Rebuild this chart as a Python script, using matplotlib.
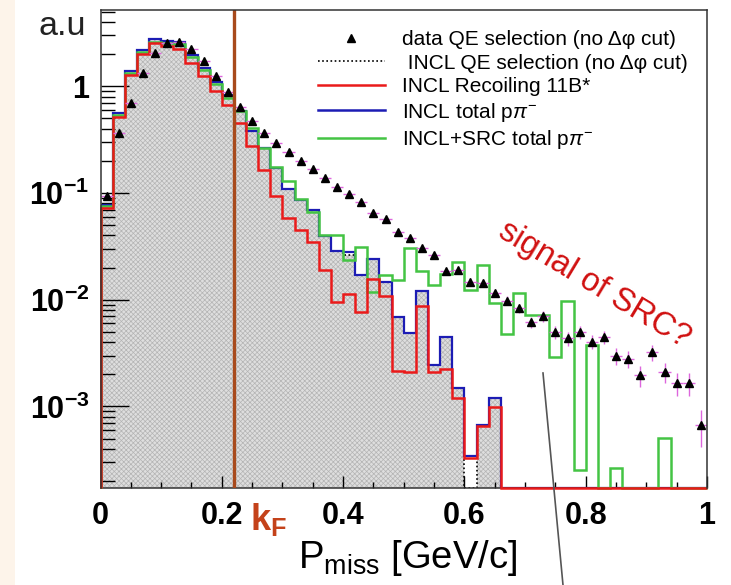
import numpy as np
import matplotlib
matplotlib.use('Agg')
import matplotlib.pyplot as plt
from matplotlib.lines import Line2D
from matplotlib.patches import Rectangle
from matplotlib.ticker import FixedLocator, LogLocator, NullFormatter

plt.rcParams['font.family'] = ['Liberation Sans', 'DejaVu Sans']
plt.rcParams['mathtext.fontset'] = 'custom'
plt.rcParams['mathtext.rm'] = 'Liberation Sans'
plt.rcParams['mathtext.it'] = 'Liberation Sans:italic'
plt.rcParams['mathtext.bf'] = 'Liberation Sans:bold'
plt.rcParams['hatch.linewidth'] = 0.5

# P_miss binning, 50 bins of 20 MeV/c
edges = np.linspace(0.0, 1.0, 51)
centers = 0.5 * (edges[:-1] + edges[1:])
kF = 0.22

# data QE selection (no dphi cut)
data_y = [0.094, 0.367, 0.702, 1.34, 2.07, 2.56, 2.58, 2.24, 1.74, 1.25,
          0.879, 0.636, 0.473, 0.367, 0.296, 0.244, 0.201, 0.168, 0.139, 0.113,
          0.0979, 0.0818, 0.0646, 0.0567, 0.0434, 0.0376, 0.0307, 0.0262, 0.0187, 0.0190,
          0.0148, 0.0144, 0.0116, 0.0098, 0.0083, 0.0062, 0.0070, 0.00495, 0.00435, 0.00495,
          0.00404, 0.0045, 0.00299, 0.00278, 0.00195, 0.00321, 0.00211, 0.00165, 0.00165, 0.00067]
data_err = [0.0029, 0.0058, 0.0080, 0.0111, 0.0138, 0.0154, 0.0154, 0.0144, 0.0127, 0.0107,
            0.0090, 0.0077, 0.0066, 0.0058, 0.0052, 0.0047, 0.0043, 0.0039, 0.0036, 0.0032,
            0.0030, 0.0027, 0.0024, 0.0023, 0.0020, 0.0019, 0.0017, 0.0016, 0.0013, 0.0013,
            0.00117, 0.00115, 0.00104, 0.00095, 0.00087, 0.00076, 0.0008, 0.00068, 0.00063, 0.00068,
            0.00061, 0.00064, 0.00053, 0.0005, 0.00042, 0.00054, 0.00044, 0.00039, 0.00039, 0.00025]

# INCL QE selection (no dphi cut)
incl_qe = [0.0767, 0.558, 1.391, 2.189, 2.776, 2.64, 2.585, 1.965, 1.475, 1.097,
           0.829, 0.587, 0.381, 0.266, 0.1704, 0.1097, 0.086, 0.0693, 0.0395, 0.0288,
           0.0262, 0.0170, 0.0239, 0.01475, 0.00693, 0.00491, 0.01207, 0.00244, 0.0045, 0.0015,
           0, 0.00067, 0.00121, 0, 0, 0, 0, 0, 0, 0,
           0, 0, 0, 0, 0, 0, 0, 0, 0, 0]

# INCL recoiling 11B*
incl_11b = [0.0723, 0.512, 1.276, 2.007, 2.53, 2.386, 2.222, 1.664, 1.249, 0.904,
            0.668, 0.45, 0.276, 0.1654, 0.0944, 0.0579, 0.045, 0.035, 0.0188, 0.00958,
            0.0113, 0.00762, 0.0155, 0.0108, 0.00215, 0.0021, 0.00873, 0.0021, 0.00224, 0.00119,
            0.000332, 0.000655, 0.000994, 0, 0, 0, 0, 0, 0, 0,
            0, 0, 0, 0, 0, 0, 0, 0, 0, 0]

# INCL total p pi-
incl_tot = [0.0767, 0.558, 1.391, 2.189, 2.776, 2.64, 2.585, 1.965, 1.475, 1.097,
            0.829, 0.587, 0.381, 0.266, 0.1704, 0.1097, 0.086, 0.0693, 0.0395, 0.0288,
            0.0278, 0.0170, 0.0239, 0.01475, 0.00693, 0.00491, 0.01207, 0.00244, 0.0045, 0.0015,
            0.00034, 0.00067, 0.00121, 0, 0, 0, 0, 0, 0, 0,
            0, 0, 0, 0, 0, 0, 0, 0, 0, 0]

# INCL+SRC total p pi-
incl_src = [0.075, 0.542, 1.347, 2.11, 2.618, 2.563, 2.491, 1.87, 1.421, 1.051,
            0.769, 0.587, 0.407, 0.266, 0.1764, 0.1304, 0.0888, 0.0664, 0.0404, 0.0404,
            0.0236, 0.0314, 0.0118, 0.0170, 0.0153, 0.0303, 0.0187, 0.01373, 0.0173, 0.0224,
            0.01233, 0.02114, 0.00925, 0.00477, 0.01148, 0.00719, 0.00719, 0.00292, 0.00979, 0.000254,
            0.00376, 0, 0.000263, 0, 0, 0, 0.000509, 0, 0, 0]

xticks = [0, 0.2, 0.4, 0.6, 0.8, 1]
xticklabels = ['0', '0.2', '0.4', '0.6', '0.8', '1']
yticks = [1e-3, 1e-2, 1e-1, 1]
yticklabels = [r'$\mathbf{10^{-3}}$', r'$\mathbf{10^{-2}}$', r'$\mathbf{10^{-1}}$', '1']

ymin, ymax = 1.72e-4, 5.19


def clip(v):
    # empty bins are drawn on the lower frame edge, like ROOT does
    v = np.asarray(v, dtype=float)
    return np.where(v > 0, v, ymin)


W, H = 731, 585
fig = plt.figure(figsize=(W / 100, H / 100), dpi=100)
fig.patches.append(Rectangle((0, 0), 15 / W, 1, transform=fig.transFigure,
                             facecolor='#fdf4ea', edgecolor='none', zorder=-5))

ax = fig.add_axes([100.5 / W, 1 - 488 / H, 606.5 / W, 478 / H])
ax.set_yscale('log')

ax.stairs(clip(incl_qe), edges, baseline=ymin, fill=True, facecolor='#dedede',
          edgecolor='#b4b4b4', hatch='xxxxxxx', linewidth=0, zorder=1)
ax.stairs(clip(incl_qe), edges, baseline=ymin, color='black', linestyle=(0, (1, 1.5)),
          linewidth=1.2, zorder=2)
ax.stairs(clip(incl_tot), edges, baseline=ymin, color='#1c1cb4', linewidth=1.6, zorder=3)
ax.stairs(clip(incl_src), edges, baseline=ymin, color='#44c444', linewidth=1.8, zorder=4,
          clip_on=False)
ax.stairs(clip(incl_11b), edges, baseline=ymin, color='#ea1a1a', linewidth=1.8, zorder=5,
          clip_on=False)

ax.errorbar(centers, data_y, yerr=data_err, xerr=0.01, fmt='none', ecolor='#dd66dd',
            elinewidth=1, capsize=0, zorder=6)
ax.plot(centers, data_y, '^', color='black', markersize=6, linestyle='none', zorder=7)

ax.axvline(kF, color='#a84a1c', linewidth=2.4, zorder=8)

ax.set_xlim(0, 1)
ax.set_ylim(ymin, ymax)
ax.xaxis.set_major_locator(FixedLocator(xticks))
ax.xaxis.set_minor_locator(FixedLocator(np.arange(0, 1.001, 0.05)))
ax.set_xticklabels(xticklabels, fontsize=22, fontweight='bold')
ax.yaxis.set_major_locator(FixedLocator(yticks))
ax.yaxis.set_minor_locator(LogLocator(base=10, subs=np.arange(2, 10)))
ax.yaxis.set_minor_formatter(NullFormatter())
ax.set_yticklabels(yticklabels, fontsize=22, fontweight='bold')
ax.tick_params(axis='x', which='major', direction='in', length=9, width=1, pad=9)
ax.tick_params(axis='x', which='minor', direction='in', length=4.5, width=1)
ax.tick_params(axis='y', which='major', direction='in', length=20, width=1, pad=8)
ax.tick_params(axis='y', which='minor', direction='in', length=10, width=1)
for name, s in ax.spines.items():
    s.set_linewidth(1.1)
    s.set_color('#333333')
    s.set_zorder(3.5 if name == 'bottom' else 10)

ax.text(kF + 0.027, -0.028, r'$\mathbf{k_F}$', transform=ax.get_xaxis_transform(),
        color='#c4421a', fontsize=26, ha='left', va='top')

fig.text(408 / W, 1 - 568 / H, r'P$_{\mathrm{miss}}$ [GeV/c]', fontsize=27.5,
         ha='center', va='baseline')
fig.text(38 / W, 1 - 11 / H, 'a.u', fontsize=24.5, color='#222222', ha='left', va='top')

fig.text(594 / W, 1 - 285 / H, 'signal of SRC?', fontsize=23.5, color='#d01010',
         rotation=-31, ha='center', va='center')

handles = [Line2D([], [], marker='^', color='black', linestyle='none', markersize=6),
           Line2D([], [], color='black', linestyle=(0, (1, 1.5)), linewidth=1.2),
           Line2D([], [], color='#ea1a1a', linewidth=1.8),
           Line2D([], [], color='#1c1cb4', linewidth=1.8),
           Line2D([], [], color='#44c444', linewidth=1.8)]
labels = ['data QE selection (no Δφ cut)',
          ' INCL QE selection (no Δφ cut)',
          'INCL Recoiling 11B*',
          r'INCL total p$\pi^{-}$',
          r'INCL+SRC total p$\pi^{-}$']
fig.legend(handles, labels, loc='upper left', bbox_to_anchor=(318 / W, 1 - 30 / H),
           frameon=False, fontsize=15, handlelength=3.2, handletextpad=0.85,
           labelspacing=0.22, borderpad=0, borderaxespad=0)

fig.add_artist(Line2D([543 / W, 563 / W], [1 - 373 / H, 0], color='#555555', linewidth=1.2))

fig.savefig('out.png', dpi=100)
